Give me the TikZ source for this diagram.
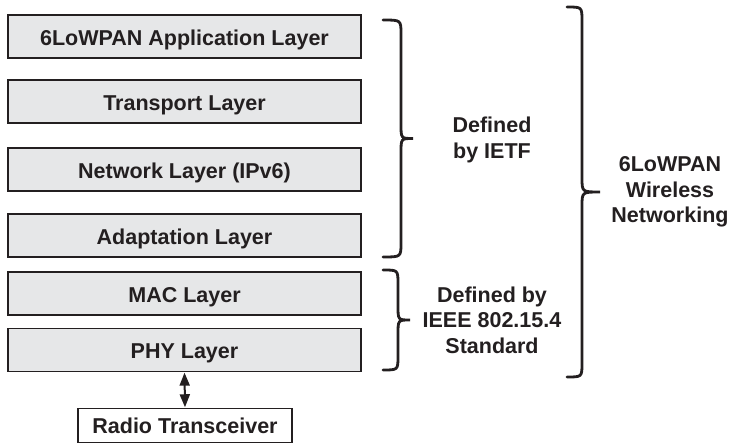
\documentclass[tikz,border=0pt]{standalone}
\usepackage{fontspec}
\setmainfont{Liberation Sans}
\usetikzlibrary{arrows.meta}
\definecolor{layerfill}{HTML}{E6E7E8}
\definecolor{ink}{HTML}{231F20}
\newcommand{\curlybrace}[5]{% x0, ytop, ybot, xstem, xtip
  \draw[bracestyle] (#1,-#2) .. controls (#4,-#2) .. (#4,-#2-14)
    -- (#4,{-(#2+#3)/2+14}) .. controls (#4,{-(#2+#3)/2}) .. (#5,{-(#2+#3)/2})
    .. controls (#4,{-(#2+#3)/2}) .. (#4,{-(#2+#3)/2-14})
    -- (#4,-#3+14) .. controls (#4,-#3) .. (#1,-#3);}
\begin{document}
\begin{tikzpicture}[x=1pt,y=1pt,
  layer/.style={draw=ink,line width=1.3pt,fill=layerfill,minimum width=353pt,minimum height=43pt,inner sep=0pt,text height=18pt,text depth=0pt,font=\fontsize{21.5}{24}\selectfont\bfseries,text=ink},
  radio/.style={draw=ink,line width=1.5pt,fill=white,minimum width=214pt,minimum height=34pt,inner sep=0pt,text height=15.4pt,text depth=0pt,font=\fontsize{21.5}{24}\selectfont\bfseries,text=ink},
  bracestyle/.style={draw=ink,line width=2.8pt,line cap=round},
  lbl/.style={align=center,font=\fontsize{21.5}{25.5}\selectfont\bfseries,text=ink},
  dbl/.style={{Triangle[length=13pt,width=10pt]}-{Triangle[length=13pt,width=10pt]},line width=2pt,draw=ink,shorten <=0.5pt,shorten >=0.5pt}]
\useasboundingbox (0,0) rectangle (729,-443);
\node[layer] (app) at (184.5,-36.5) {6LoWPAN Application Layer};
\node[layer] (trans) at (184.5,-101.5) {Transport Layer};
\node[layer] (net) at (184.5,-169.5) {Network Layer (IPv6)};
\node[layer] (adapt) at (184.5,-235.5) {Adaptation Layer};
\node[layer] (mac) at (184.5,-293.5) {MAC Layer};
\node[layer] (phy) at (184.5,-350) {PHY Layer};
\node[radio] (radio) at (185,-425.5) {Radio Transceiver};
\draw[dbl] (phy.south) -- (radio.north);
\curlybrace{383}{20}{257}{401}{413}
\curlybrace{383}{270}{370}{398}{410}
\curlybrace{567}{7}{377}{582}{600}
\node[lbl] (ietf) at (492,-140) {Defined\\by IETF};
\node[lbl] (ieee) at (492,-320) {Defined by\\IEEE 802.15.4\\Standard};
\node[lbl] (wsn) at (670,-192) {6LoWPAN\\Wireless\\Networking};
\end{tikzpicture}
\end{document}
